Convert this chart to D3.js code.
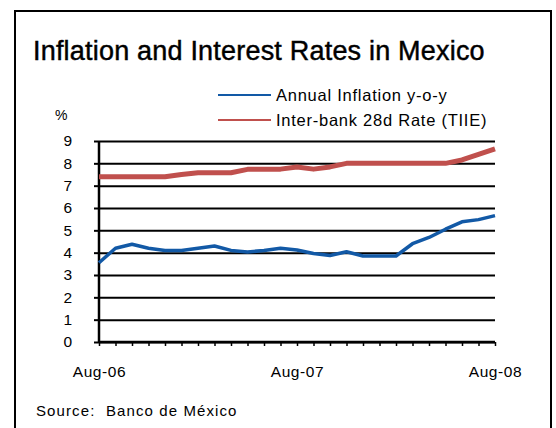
<!DOCTYPE html>
<html><head><meta charset="utf-8">
<script src="https://cdn.jsdelivr.net/npm/d3@7"></script>
<style>
html,body{margin:0;padding:0;background:#fff;}
svg{display:block;font-family:"Liberation Sans",Arial,sans-serif;}
</style></head>
<body>
<svg id="c" width="556" height="428"></svg>
<script>
const months = ["Aug-06","Sep-06","Oct-06","Nov-06","Dec-06","Jan-07","Feb-07","Mar-07","Apr-07","May-07","Jun-07","Jul-07",
  "Aug-07","Sep-07","Oct-07","Nov-07","Dec-07","Jan-08","Feb-08","Mar-08","Apr-08","May-08","Jun-08","Jul-08","Aug-08"];
const inflation = [3.55,4.2,4.38,4.2,4.1,4.1,4.2,4.3,4.1,4.03,4.1,4.2,4.12,3.96,3.87,4.04,3.85,3.85,3.85,4.4,4.68,5.05,5.38,5.48,5.66];
const tiie = [7.4,7.4,7.4,7.4,7.4,7.5,7.58,7.58,7.58,7.73,7.73,7.74,7.84,7.74,7.84,8.0,8.0,8.0,8.0,8.0,8.0,8.0,8.15,8.4,8.65];
const xLabels = ["Aug-06","Aug-07","Aug-08"];
const yTicks = [0,1,2,3,4,5,6,7,8,9];
const seriesNames = ["Annual Inflation y-o-y","Inter-bank 28d Rate (TIIE)"];
const colors = ["#1259a6","#c0504d"];
const title = "Inflation and Interest Rates in Mexico";
const source = "Source:\u00a0\u00a0Banco de México";

const svg = d3.select("#c");
// outer frame
svg.append("rect").attr("x",15).attr("y",11).attr("width",536).attr("height",430)
  .attr("fill","none").attr("stroke","#000").attr("stroke-width",2);

svg.append("text").attr("x",33).attr("y",60).attr("font-size",27)
  .attr("letter-spacing",0.2)
  .attr("stroke","#000").attr("stroke-width",0.45).attr("fill","#000").text(title);

const L = 99, R = 495, T = 141, B = 342;
const x = d3.scalePoint().domain(months).range([L,R]);
const y = d3.scaleLinear().domain([0,9]).range([B,T]);

// gridlines
const grid = svg.append("g").attr("transform",`translate(${L},0)`)
  .call(d3.axisLeft(y).tickValues(yTicks).tickSize(-(R-L)).tickFormat(""));
grid.select(".domain").remove();
grid.selectAll("line").attr("stroke","#000").attr("stroke-width",2);

// y axis
const ya = svg.append("g").attr("transform",`translate(${L},0)`)
  .call(d3.axisLeft(y).tickValues(yTicks).tickSize(5).tickPadding(22));
ya.select(".domain").attr("stroke","#000").attr("stroke-width",2.5).attr("d",`M0,${T}V${B}`);
ya.selectAll("line").attr("stroke","#000").attr("stroke-width",2);
ya.selectAll("text").attr("font-size",15.5).attr("fill","#000").attr("font-family","Liberation Sans, Arial, sans-serif");

// x axis
const xa = svg.append("g").attr("transform",`translate(0,${B})`)
  .call(d3.axisBottom(x).tickSize(4).tickPadding(20)
    .tickFormat(d => xLabels.includes(d) ? d : ""));
xa.select(".domain").attr("stroke","#000").attr("stroke-width",2.5).attr("d",`M${L},0H${R}`);
xa.selectAll("line").attr("stroke","#000").attr("stroke-width",1.5);
xa.selectAll("text").attr("font-size",15.5).attr("letter-spacing",0.6).attr("fill","#000")
  .attr("font-family","Liberation Sans, Arial, sans-serif");

svg.append("text").attr("x",55).attr("y",120).attr("font-size",14).text("%");

// lines
const line = d3.line().x((d,i)=>x(months[i])).y(d=>y(d));
svg.append("path").datum(tiie).attr("d",line).attr("fill","none")
  .attr("stroke",colors[1]).attr("stroke-width",5).attr("stroke-linejoin","round").attr("stroke-linecap","butt");
svg.append("path").datum(inflation).attr("d",line).attr("fill","none")
  .attr("stroke",colors[0]).attr("stroke-width",3.5).attr("stroke-linejoin","round");

// legend
const lg = svg.append("g");
seriesNames.forEach((n,i)=>{
  const yy = 95 + i*25;
  lg.append("line").attr("x1",218).attr("x2",271).attr("y1",yy).attr("y2",yy)
    .attr("stroke",colors[i]).attr("stroke-width",2);
  lg.append("text").attr("x",276).attr("y",yy+6).attr("font-size",16.5)
    .attr("letter-spacing",0.75).text(n);
});

svg.append("text").attr("x",36).attr("y",416).attr("font-size",15)
  .attr("letter-spacing",1.1).text(source);
</script>
</body></html>
